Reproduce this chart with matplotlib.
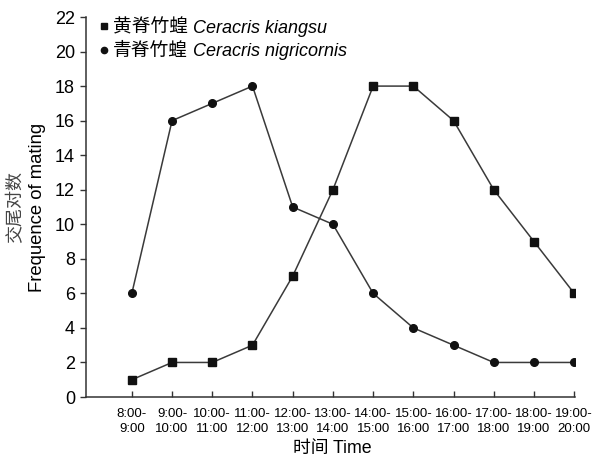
import matplotlib
matplotlib.use("Agg")
import matplotlib.pyplot as plt

plt.rcParams['font.family'] = ['Liberation Sans', 'Noto Sans CJK SC']

periods = ["8:00-\n9:00", "9:00-\n10:00", "10:00-\n11:00", "11:00-\n12:00", "12:00-\n13:00",
           "13:00-\n14:00", "14:00-\n15:00", "15:00-\n16:00", "16:00-\n17:00", "17:00-\n18:00",
           "18:00-\n19:00", "19:00-\n20:00"]
kiangsu = [1, 2, 2, 3, 7, 12, 18, 18, 16, 12, 9, 6]
nigricornis = [6, 16, 17, 18, 11, 10, 6, 4, 3, 2, 2, 2]
yticks = list(range(0, 23, 2))
cn_names = ['黄脊竹蝗', '青脊竹蝗']
latin_names = ['Ceracris kiangsu', 'Ceracris nigricornis']

fig = plt.figure(figsize=(5.92, 4.59), dpi=100)
ax = fig.add_axes([86/592, 1-397/459, (575-86)/592, (397-17)/459])
x = list(range(len(periods)))
lc = '#3a3a3a'
ax.plot(x, kiangsu, marker='s', color=lc, lw=1.1, ms=5.3, mfc='#111111', mec='#111111',
        label=cn_names[0])
ax.plot(x, nigricornis, marker='o', color=lc, lw=1.1, ms=5.5, mfc='#111111', mec='#111111',
        label=cn_names[1])

ax.set_xlim(-1.14, 11.02)
ax.set_ylim(0, 22)
ax.set_yticks(yticks)
ax.set_yticklabels([str(v) for v in yticks], fontsize=13)
ax.set_xticks(x)
ax.set_xticklabels(periods, fontsize=9.5, linespacing=1.35)
ax.tick_params(axis='x', direction='in', length=4, pad=8, width=1, color='#333333')
ax.tick_params(axis='y', direction='out', length=4, pad=4, width=1, color='#333333')
for s in ['top', 'right']:
    ax.spines[s].set_visible(False)
for s in ['left', 'bottom']:
    ax.spines[s].set_color('#333333')
    ax.spines[s].set_linewidth(1.1)

leg = ax.legend(loc='upper left', bbox_to_anchor=(0.005, 1.03), frameon=False,
                handlelength=0.5, handletextpad=0.2, labelspacing=0.12, borderaxespad=0.2,
                prop={'family': 'Noto Sans CJK SC', 'size': 13.5, 'weight': 'light'})
for h in leg.legend_handles:
    h.set_linestyle('None')
    h.set_markersize(4.5)
for t, lat in zip(leg.get_texts(), latin_names):
    ax.annotate(lat, xy=(1, 0.45), xycoords=t, xytext=(4, 0), textcoords='offset points',
                ha='left', va='center', fontsize=13, style='italic', family='Liberation Sans',
                zorder=10)

fig.text(15/592, 1-207/459, '交尾对数', rotation=90, ha='center', va='center', fontsize=13,
         color='#444444', family='Noto Sans CJK SC', weight='light')
fig.text(38/592, 1-207/459, 'Frequence of mating', rotation=90, ha='center', va='center', fontsize=13.3)
fig.text(332/592, 1-449/459, '时间 Time', ha='center', va='center', fontsize=12.8)

fig.savefig('out.png', dpi=100)
